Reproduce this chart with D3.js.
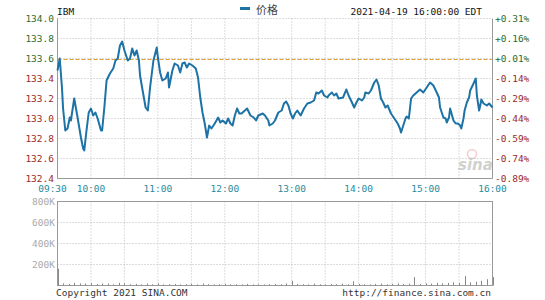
<!DOCTYPE html>
<html>
<head>
<meta charset="utf-8">
<script src="https://cdn.jsdelivr.net/npm/d3@7"></script>
<style>
  body { margin: 0; background: #fff; }
  text { font-family: "DejaVu Sans Mono", monospace; font-size: 9.5px; }
</style>
</head>
<body>
<svg id="chart" width="545" height="300"></svg>
<script>
// minutes after 09:30 and price
var minutes = [0, 2, 4, 5, 7, 9, 11, 12, 15, 18, 21, 23, 24, 26, 28, 30, 32, 34, 36, 39, 40, 42, 44, 47, 50, 52, 54, 56, 58, 60, 63, 65, 67, 69, 71, 73, 74, 76, 79, 81, 83, 86, 89, 90, 92, 94, 97, 99, 100, 103, 105, 108, 110, 112, 114, 116, 118, 121, 124, 126, 128, 130, 132, 134, 136, 138, 141, 144, 146, 148, 151, 153, 155, 157, 159, 161, 163, 165, 168, 170, 173, 176, 178, 180, 184, 186, 189, 190, 193, 195, 198, 201, 203, 205, 207, 209, 211, 213, 215, 218, 221, 224, 227, 230, 232, 234, 237, 239, 242, 243, 246, 248, 250, 252, 256, 259, 261, 264, 266, 268, 270, 273, 275, 276, 279, 281, 284, 286, 288, 290, 292, 294, 296, 299, 302, 305, 307, 308, 310, 312, 313, 315, 317, 319, 322, 325, 328, 331, 334, 337, 340, 342, 343, 346, 348, 349, 351, 352, 354, 355, 357, 359, 361, 362, 364, 365, 367, 369, 370, 373, 375, 376, 378, 379, 380, 382, 385, 387, 390];
var prices = [133.48, 133.60, 133.31, 133.10, 132.88, 132.90, 133.01, 132.98, 133.20, 133.01, 132.81, 132.70, 132.68, 132.88, 133.06, 133.10, 133.03, 133.06, 133.00, 132.88, 132.88, 133.11, 133.38, 133.45, 133.50, 133.58, 133.60, 133.73, 133.77, 133.68, 133.58, 133.60, 133.70, 133.63, 133.68, 133.58, 133.43, 133.30, 133.11, 133.08, 133.31, 133.58, 133.71, 133.61, 133.46, 133.38, 133.40, 133.46, 133.31, 133.48, 133.55, 133.53, 133.46, 133.55, 133.56, 133.51, 133.55, 133.53, 133.50, 133.41, 133.21, 133.06, 132.95, 132.81, 132.93, 132.90, 132.95, 133.01, 132.96, 132.98, 132.95, 133.00, 132.95, 132.93, 133.03, 133.10, 133.05, 133.05, 133.08, 133.10, 133.03, 133.01, 132.98, 133.03, 133.05, 133.03, 132.98, 132.93, 132.95, 132.98, 133.06, 133.08, 133.15, 133.17, 133.13, 133.05, 133.00, 133.05, 133.08, 133.03, 133.10, 133.15, 133.16, 133.18, 133.26, 133.25, 133.28, 133.23, 133.21, 133.23, 133.26, 133.23, 133.25, 133.20, 133.21, 133.29, 133.23, 133.16, 133.11, 133.16, 133.20, 133.18, 133.21, 133.26, 133.25, 133.28, 133.36, 133.39, 133.33, 133.20, 133.16, 133.11, 133.13, 133.05, 133.00, 132.95, 132.90, 132.86, 132.93, 133.00, 133.02, 133.00, 133.20, 133.23, 133.26, 133.29, 133.26, 133.31, 133.36, 133.33, 133.26, 133.21, 133.11, 133.01, 133.00, 132.96, 133.01, 133.10, 133.02, 132.98, 132.95, 132.95, 132.93, 132.90, 133.00, 133.08, 133.16, 133.21, 133.28, 133.35, 133.40, 133.23, 133.08, 133.13, 133.19, 133.15, 133.13, 133.15, 133.11];

// volume, one bar every 5 minutes
var volMinutes = d3.range(0, 391, 5);
var volumes = [160, 20, 15, 25, 20, 18, 22, 15, 20, 18, 12, 25, 20, 12, 15, 10, 18, 12, 20, 10, 12, 15, 10, 12, 15, 10, 18, 12, 10, 12, 15, 10, 12, 10, 15, 10, 12, 10, 12, 15, 12, 20, 45, 15, 12, 10, 18, 12, 10, 15, 12, 18, 12, 40, 15, 12, 10, 15, 18, 12, 15, 20, 15, 18, 80, 15, 20, 18, 25, 20, 25, 30, 25, 90, 30, 35, 45, 60, 80].map(function(v) { return v * 1000; });

var priceTicks = [134.0, 133.8, 133.6, 133.4, 133.2, 133.0, 132.8, 132.6, 132.4];
var pctTicks = ["+0.31%", "+0.16%", "+0.01%", "-0.14%", "-0.29%", "-0.44%", "-0.59%", "-0.74%", "-0.89%"];
var timeTicks = ["09:30", "10:00", "11:00", "12:00", "13:00", "14:00", "15:00", "16:00"];
var volTicks = [800000, 600000, 400000, 200000];
var prevClose = 133.59;

var svg = d3.select("#chart");
var left = 57.5, right = 492.5;

var x = d3.scaleLinear().domain([0, 390]).range([left, right]);
var y = d3.scaleLinear().domain([132.4, 134.0]).range([178.5, 18.5]);
var yv = d3.scaleLinear().domain([0, 800000]).range([285.5, 201.5]);

function tickMin(t) {
  var p = t.split(":");
  return (+p[0] * 60 + +p[1]) - 570;
}

var green = "#2e6b2e", red = "#a02828";

// price panel grid
svg.append("g").selectAll("line")
  .data(priceTicks)
  .enter().append("line")
    .attr("x1", left).attr("x2", right)
    .attr("y1", function(d) { return y(d); })
    .attr("y2", function(d) { return y(d); })
    .attr("stroke", "#bbb")
    .attr("stroke-dasharray", "1,2");

svg.append("g").selectAll("line")
  .data(d3.range(30, 390, 30))
  .enter().append("line")
    .attr("x1", function(d) { return x(d); })
    .attr("x2", function(d) { return x(d); })
    .attr("y1", y(134.0)).attr("y2", y(132.4))
    .attr("stroke", "#bbb")
    .attr("stroke-dasharray", "1,2");

// previous close
svg.append("line")
  .attr("x1", left).attr("x2", right)
  .attr("y1", Math.round(y(prevClose)) + 0.5).attr("y2", Math.round(y(prevClose)) + 0.5)
  .attr("stroke", "#e0a030")
  .attr("stroke-dasharray", "4,2");

// border
svg.append("path")
  .attr("d", "M" + left + "," + y(134.0) + "V" + y(132.4) + "H" + right + "V" + y(134.0))
  .attr("fill", "none")
  .attr("stroke", "#999");

// y labels
svg.append("g").selectAll("text")
  .data(priceTicks)
  .enter().append("text")
    .attr("x", 54)
    .attr("y", function(d) { return y(d) + 3; })
    .attr("text-anchor", "end")
    .attr("fill", function(d) { return d >= 133.6 ? green : red; })
    .text(function(d) { return d.toFixed(1); });

svg.append("g").selectAll("text")
  .data(pctTicks)
  .enter().append("text")
    .attr("x", 495)
    .attr("y", function(d, i) { return y(priceTicks[i]) + 3; })
    .attr("fill", function(d) { return d[0] == "+" ? green : red; })
    .text(function(d) { return d; });

// time labels
svg.append("g").selectAll("text")
  .data(timeTicks)
  .enter().append("text")
    .attr("x", function(d, i) { return x(tickMin(d)) - (i == 0 ? 5 : 0); })
    .attr("y", 192)
    .attr("text-anchor", "middle")
    .attr("fill", "#2a8a9c")
    .text(function(d) { return d; });

// watermark
var wm = svg.append("g").attr("opacity", 0.45);
wm.append("circle").attr("cx", 472).attr("cy", 154).attr("r", 4.5)
  .attr("fill", "none").attr("stroke", "#e89090").attr("stroke-width", 1.5);
wm.append("text")
  .attr("x", 458).attr("y", 170)
  .attr("fill", "#999")
  .style("font-family", "DejaVu Sans")
  .style("font-size", "15px")
  .style("font-style", "italic")
  .style("font-weight", "bold")
  .text("sina");

// price line
var line = d3.line()
  .x(function(d, i) { return x(minutes[i]); })
  .y(function(d) { return y(d); });

svg.append("path")
  .datum(prices)
  .attr("d", line)
  .attr("fill", "none")
  .attr("stroke", "#1d72a6")
  .attr("stroke-width", 2)
  .attr("stroke-linejoin", "round");

// volume panel
svg.append("g").selectAll("line")
  .data(volTicks.slice(1))
  .enter().append("line")
    .attr("x1", left).attr("x2", right)
    .attr("y1", function(d) { return yv(d); })
    .attr("y2", function(d) { return yv(d); })
    .attr("stroke", "#bbb")
    .attr("stroke-dasharray", "1,2");

svg.append("g").selectAll("line")
  .data(d3.range(30, 390, 30))
  .enter().append("line")
    .attr("x1", function(d) { return x(d); })
    .attr("x2", function(d) { return x(d); })
    .attr("y1", yv(800000)).attr("y2", yv(0))
    .attr("stroke", "#bbb")
    .attr("stroke-dasharray", "1,2");

svg.append("rect")
  .attr("x", left).attr("y", yv(800000))
  .attr("width", right - left).attr("height", yv(0) - yv(800000))
  .attr("fill", "none")
  .attr("stroke", "#999");

svg.append("g").selectAll("line")
  .data(volumes)
  .enter().append("line")
    .attr("x1", function(d, i) { return Math.round(x(volMinutes[i])) + 0.5; })
    .attr("x2", function(d, i) { return Math.round(x(volMinutes[i])) + 0.5; })
    .attr("y1", yv(0))
    .attr("y2", function(d) { return yv(d); })
    .attr("stroke", "#888");

svg.append("g").selectAll("text")
  .data(volTicks)
  .enter().append("text")
    .attr("x", 55)
    .attr("y", function(d) { return yv(d) + 3.5; })
    .attr("text-anchor", "end")
    .attr("fill", "#aaa")
    .text(function(d) { return (d / 1000) + "K"; });

// header
svg.append("text").attr("x", 57).attr("y", 15).attr("fill", "#111").text("IBM");
svg.append("rect").attr("x", 240).attr("y", 7).attr("width", 10).attr("height", 3).attr("fill", "#1d72a6");
svg.append("text").attr("x", 256).attr("y", 14).attr("fill", "#444")
  .style("font-family", "Noto Sans CJK SC").style("font-size", "11px").text("价格");
svg.append("text").attr("x", 482).attr("y", 15).attr("text-anchor", "end").attr("fill", "#111")
  .text("2021-04-19 16:00:00 EDT");

// footer
svg.append("text").attr("x", 56).attr("y", 296).attr("fill", "#333").text("Copyright 2021 SINA.COM");
svg.append("text").attr("x", 491).attr("y", 296).attr("text-anchor", "end").attr("fill", "#333")
  .text("http://finance.sina.com.cn");
</script>
</body>
</html>
